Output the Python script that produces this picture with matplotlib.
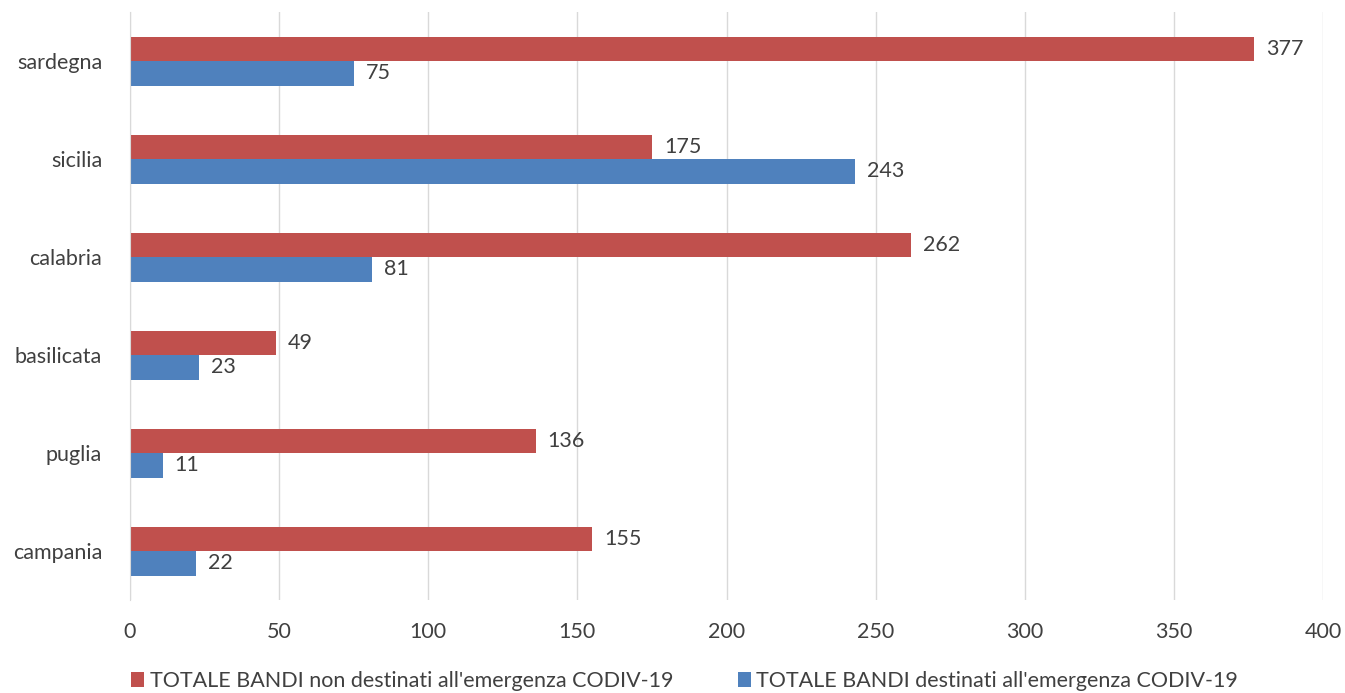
import numpy as np
import matplotlib.pyplot as plt

regions = ['sardegna', 'sicilia', 'calabria', 'basilicata', 'puglia', 'campania']
non_covid = [377, 175, 262, 49, 136, 155]
covid = [75, 243, 81, 23, 11, 22]

plt.rcParams['font.family'] = ['Lato', 'DejaVu Sans']

fig = plt.figure(figsize=(13.45, 6.93), dpi=100)
ax = fig.add_axes([130 / 1345, 1 - 600 / 693, 1193 / 1345, 588 / 693])

y = np.arange(len(regions))[::-1].astype(float)
h = 0.25
red = '#C0504D'
blue = '#4F81BD'
b1 = ax.barh(y + h / 2, non_covid, height=h, color=red,
             label="TOTALE BANDI non destinati all'emergenza CODIV-19")
b2 = ax.barh(y - h / 2, covid, height=h, color=blue,
             label="TOTALE BANDI destinati all'emergenza CODIV-19")
for bars in (b1, b2):
    for r in bars:
        ax.text(r.get_width() + 4, r.get_y() + r.get_height() / 2, str(int(r.get_width())),
                va='center', ha='left', fontsize=15.5, color='#404040')

ax.set_xlim(0, 400)
ax.set_ylim(-0.5, len(regions) - 0.5)
ax.set_xticks(range(0, 401, 50))
ax.set_yticks(y)
ax.set_yticklabels(regions)
ax.tick_params(axis='both', length=0, labelsize=15.5, labelcolor='#404040')
ax.tick_params(axis='x', pad=16)
ax.tick_params(axis='y', pad=20)
ax.grid(axis='x', color='#D9D9D9', linewidth=1)
ax.set_axisbelow(True)
for s in ['top', 'right', 'bottom']:
    ax.spines[s].set_visible(False)
ax.spines['left'].set_color('#D9D9D9')

fig.legend(handles=[b1, b2], loc='lower center', bbox_to_anchor=(0.509, -0.025), ncol=2,
           frameon=False, fontsize=15.5, handlelength=0.6, handleheight=0.7,
           handletextpad=0.25, columnspacing=3.0, labelcolor='#404040')

fig.savefig('out.png', dpi=100)
